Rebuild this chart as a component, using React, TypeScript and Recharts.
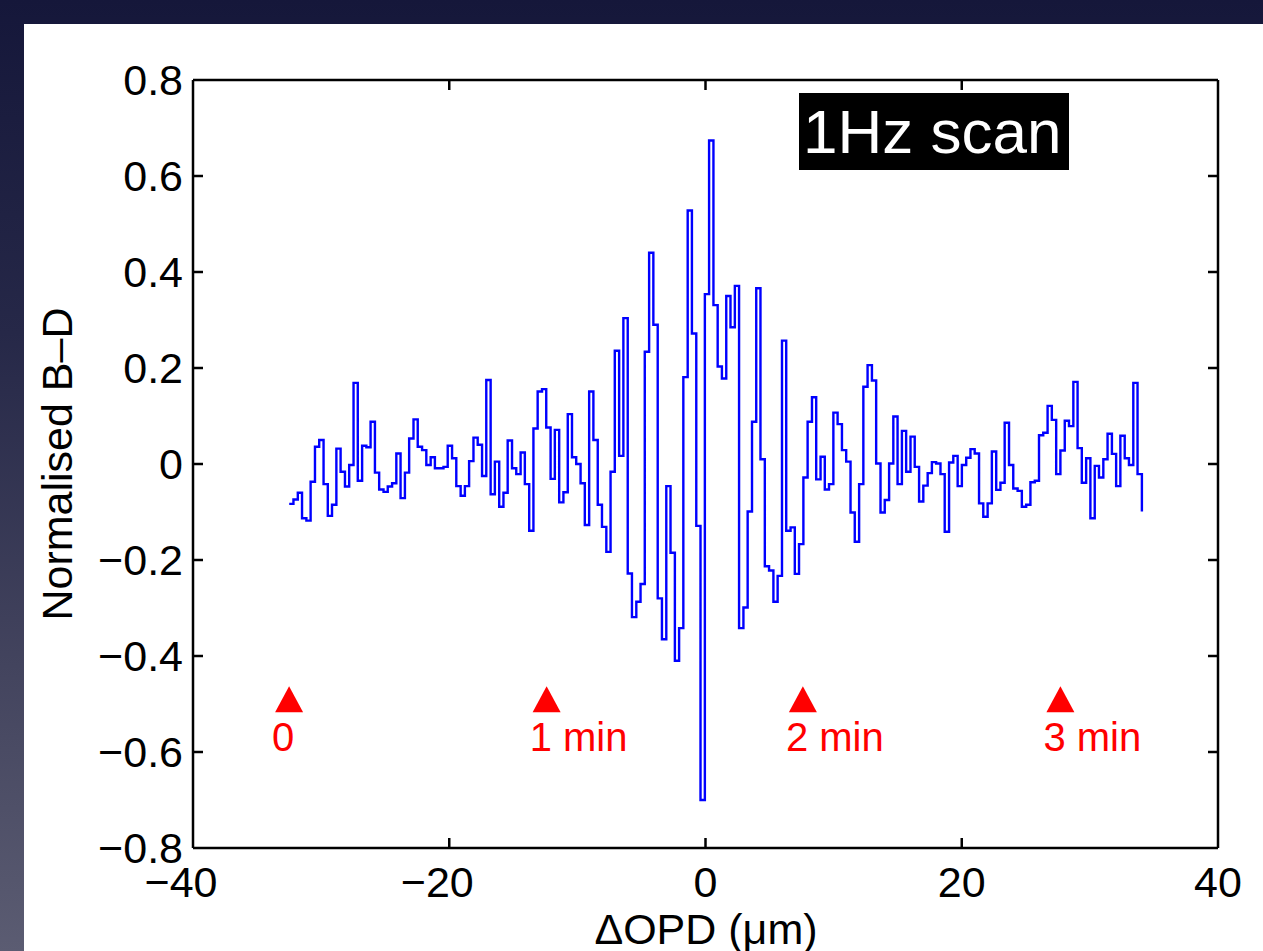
import { ComposedChart, Line, Scatter, XAxis, YAxis, ReferenceLine } from 'recharts';

// sample positions (µm), one per second of the 1 Hz scan
const opd = [
  -32.49, -32.16, -31.82, -31.49, -31.15, -30.82, -30.48, -30.15, -29.81, -29.48,
  -29.15, -28.81, -28.48, -28.14, -27.81, -27.47, -27.14, -26.8, -26.47, -26.14,
  -25.8, -25.47, -25.13, -24.8, -24.46, -24.13, -23.8, -23.46, -23.13, -22.79,
  -22.46, -22.12, -21.79, -21.45, -21.12, -20.79, -20.45, -20.12, -19.78, -19.45,
  -19.11, -18.78, -18.45, -18.11, -17.78, -17.44, -17.11, -16.77, -16.44, -16.1,
  -15.77, -15.44, -15.1, -14.77, -14.43, -14.1, -13.76, -13.43, -13.1, -12.76,
  -12.43, -12.09, -11.76, -11.42, -11.09, -10.75, -10.42, -10.09, -9.75, -9.42,
  -9.08, -8.75, -8.41, -8.08, -7.74, -7.41, -7.08, -6.74, -6.41, -6.07,
  -5.74, -5.4, -5.07, -4.74, -4.4, -4.07, -3.73, -3.4, -3.06, -2.73,
  -2.39, -2.06, -1.73, -1.39, -1.06, -0.72, -0.39, -0.05, 0.28, 0.62,
  0.95, 1.28, 1.62, 1.95, 2.29, 2.62, 2.96, 3.29, 3.63, 3.96,
  4.29, 4.63, 4.96, 5.3, 5.63, 5.97, 6.3, 6.64, 6.97, 7.3,
  7.64, 7.97, 8.31, 8.64, 8.98, 9.31, 9.64, 9.98, 10.31, 10.65,
  10.98, 11.32, 11.65, 11.99, 12.32, 12.65, 12.99, 13.32, 13.66, 13.99,
  14.33, 14.66, 14.99, 15.33, 15.66, 16.0, 16.33, 16.67, 17.0, 17.34,
  17.67, 18.0, 18.34, 18.67, 19.01, 19.34, 19.68, 20.01, 20.35, 20.68,
  21.01, 21.35, 21.68, 22.02, 22.35, 22.69, 23.02, 23.35, 23.69, 24.02,
  24.36, 24.69, 25.03, 25.36, 25.7, 26.03, 26.36, 26.7, 27.03, 27.37,
  27.7, 28.04, 28.37, 28.71, 29.04, 29.37, 29.71, 30.04, 30.38, 30.71,
  31.05, 31.38, 31.72, 32.05, 32.38, 32.72, 33.05, 33.39, 33.72, 34.06,
];

// normalised B-D signal
const signal = [
  -0.083, -0.074, -0.06, -0.113, -0.118, -0.037, 0.036, 0.05, -0.042, -0.108,
  -0.085, 0.032, -0.016, -0.047, -0.002, 0.169, -0.035, 0.038, 0.035, 0.088,
  -0.018, -0.053, -0.058, -0.047, -0.04, 0.022, -0.071, -0.018, 0.053, 0.093,
  0.036, 0.029, -0.002, 0.014, -0.009, -0.009, -0.006, 0.038, 0.012, -0.046,
  -0.066, -0.046, 0.006, 0.055, 0.04, -0.025, 0.175, -0.063, 0.005, -0.089,
  -0.06, 0.049, -0.009, -0.021, 0.024, -0.042, -0.139, 0.074, 0.151, 0.156,
  0.076, -0.031, 0.071, -0.08, -0.059, 0.104, 0.014, 0.0, -0.04, -0.127,
  0.151, 0.05, -0.085, -0.131, -0.183, -0.016, 0.236, 0.017, 0.304, -0.228,
  -0.319, -0.287, -0.25, 0.234, 0.44, 0.29, -0.28, -0.365, -0.046, -0.185,
  -0.41, -0.342, 0.181, 0.528, 0.272, -0.129, -0.7, 0.354, 0.674, 0.331,
  0.203, 0.178, 0.35, 0.285, 0.371, -0.342, -0.299, -0.099, 0.088, 0.366,
  0.01, -0.213, -0.222, -0.287, -0.233, 0.257, -0.139, -0.132, -0.229, -0.167,
  -0.028, 0.088, 0.139, -0.032, 0.015, -0.053, -0.042, 0.107, 0.083, 0.029,
  0.005, -0.101, -0.162, -0.042, 0.161, 0.206, 0.174, 0.001, -0.101, -0.075,
  0.001, 0.099, -0.042, 0.069, -0.016, 0.057, -0.006, -0.078, -0.045, -0.019,
  0.004, 0.001, -0.021, -0.141, 0.003, 0.017, -0.046, -0.002, 0.013, 0.031,
  0.022, -0.082, -0.11, -0.082, 0.026, -0.054, -0.039, 0.086, -0.002, -0.051,
  -0.056, -0.089, -0.085, -0.038, -0.035, 0.06, 0.065, 0.121, 0.092, -0.021,
  0.028, 0.09, 0.079, 0.171, 0.033, -0.039, 0.012, -0.113, -0.004, -0.028,
  0.01, 0.063, 0.021, -0.046, 0.059, 0.012, -0.002, 0.169, -0.021, -0.099,
];

// time markers along the scan
const markerX = [-32.5, -12.4, 7.6, 27.7];
const markerLabels = ['0', '1 min', '2 min', '3 min'];
const markerLevel = -0.49;

const xTicks = [-40, -20, 0, 20, 40];
const yTicks = [-0.8, -0.6, -0.4, -0.2, 0, 0.2, 0.4, 0.6, 0.8];

const FONT = '"Liberation Sans", Arial, Helvetica, sans-serif';
const X_DOMAIN: [number, number] = [-40, 40];
const Y_DOMAIN: [number, number] = [-0.8, 0.8];

// plot box in page pixels (follows from the chart margins below)
const W = 1263;
const H = 951;
const MARGIN = { top: 80, right: 45, bottom: 43, left: 33 };
const Y_AXIS_W = 160;
const X_AXIS_H = 60;
const PLOT_LEFT = MARGIN.left + Y_AXIS_W;
const PLOT_RIGHT = W - MARGIN.right;
const PLOT_TOP = MARGIN.top;
const PLOT_BOTTOM = H - MARGIN.bottom - X_AXIS_H;
const TICK_LEN = 10;
const X_LABEL_GAP = 18;
const Y_LABEL_GAP = 10;

const lineData = opd.map((x, i) => ({ x, y: signal[i] }));
const markers = markerX.map((x, i) => ({ x, y: markerLevel, label: markerLabels[i] }));

function fmt(v: number, digits: number) {
  if (Math.abs(v) < 1e-9) return '0';
  const s = Math.abs(v).toFixed(digits);
  return v < 0 ? '\u2212' + s : s;
}

const XTick = (props: any) => {
  const { x, y, payload } = props;
  const v = payload.value;
  const inner = v > X_DOMAIN[0] && v < X_DOMAIN[1];
  return (
    <g>
      {inner && (
        <>
          <line x1={x} x2={x} y1={PLOT_BOTTOM} y2={PLOT_BOTTOM - TICK_LEN} stroke="#000" strokeWidth={2.5} />
          <line x1={x} x2={x} y1={PLOT_TOP} y2={PLOT_TOP + TICK_LEN} stroke="#000" strokeWidth={2.5} />
        </>
      )}
      <text x={x + (v < 0 ? -12 : 0)} y={y} dy="0.71em" textAnchor="middle"
        fontSize={43} fontFamily={FONT} fill="#000">
        {fmt(v, 0)}
      </text>
    </g>
  );
};

const YTick = (props: any) => {
  const { x, y, payload } = props;
  const v = payload.value;
  const inner = v > Y_DOMAIN[0] && v < Y_DOMAIN[1];
  return (
    <g>
      {inner && (
        <>
          <line x1={PLOT_LEFT} x2={PLOT_LEFT + TICK_LEN} y1={y} y2={y} stroke="#000" strokeWidth={2.5} />
          <line x1={PLOT_RIGHT} x2={PLOT_RIGHT - TICK_LEN} y1={y} y2={y} stroke="#000" strokeWidth={2.5} />
        </>
      )}
      <text x={x} y={y} dy="0.36em" textAnchor="end" fontSize={43} fontFamily={FONT} fill="#000">
        {fmt(v, 1)}
      </text>
    </g>
  );
};

const Marker = (props: any) => {
  const { cx, cy, payload } = props;
  return (
    <g>
      <polygon points={`${cx},${cy - 13} ${cx - 14},${cy + 13} ${cx + 14},${cy + 13}`} fill="#ff0000" />
      <text x={cx - 17} y={cy + 52} fontSize={40} fontFamily={FONT} fill="#ff0000">
        {payload.label}
      </text>
    </g>
  );
};

const axisStyle = { stroke: '#000', strokeWidth: 2.5 };

export default function App() {
  return (
    <div style={{
      position: 'absolute', left: 0, top: 0, width: W, height: H, overflow: 'hidden',
      background: 'linear-gradient(to bottom, #15173a 0%, #262848 35%, #43445e 70%, #5b5c72 100%)',
      fontFamily: FONT,
    }}>
      <div style={{ position: 'absolute', left: 24, top: 24, right: 0, bottom: 0, background: '#fff' }} />
      <div style={{ position: 'absolute', left: 0, top: 0 }}>
        <ComposedChart width={W} height={H} margin={MARGIN}>
          <XAxis dataKey="x" type="number" domain={X_DOMAIN} ticks={xTicks}
            height={X_AXIS_H} tickSize={0} tickMargin={X_LABEL_GAP} axisLine={axisStyle} tickLine={false}
            tick={<XTick />} interval={0} allowDataOverflow
            label={{
              content: () => (
                <text x={706} y={944} textAnchor="middle" fontSize={43} fontFamily={FONT} fill="#000">
                  ΔOPD (μm)
                </text>
              ),
            }} />
          <YAxis dataKey="y" type="number" domain={Y_DOMAIN} ticks={yTicks}
            width={Y_AXIS_W} tickSize={0} tickMargin={Y_LABEL_GAP} axisLine={axisStyle} tickLine={false}
            tick={<YTick />} interval={0} allowDataOverflow
            label={{
              content: () => (
                <text x={72} y={464} textAnchor="middle" fontSize={43} fontFamily={FONT} fill="#000"
                  transform="rotate(-90 72 464)">
                  Normalised B–D
                </text>
              ),
            }} />
          {/* top and right sides of the box */}
          <ReferenceLine y={Y_DOMAIN[1]} stroke="#000" strokeWidth={2.5} ifOverflow="visible" />
          <ReferenceLine x={X_DOMAIN[1]} stroke="#000" strokeWidth={2.5} ifOverflow="visible" />

          <Line data={lineData} dataKey="y" type="stepAfter" stroke="#0000ff" strokeWidth={2.4}
            dot={false} activeDot={false} isAnimationActive={false} />
          <Scatter data={markers} dataKey="y" shape={<Marker />} isAnimationActive={false} />
        </ComposedChart>
      </div>
      <div style={{
        position: 'absolute', left: 799, top: 93, width: 266, height: 77, paddingLeft: 4,
        background: '#000', color: '#fff', fontSize: 62, lineHeight: '77px', fontFamily: FONT,
        whiteSpace: 'nowrap',
      }}>
        1Hz scan
      </div>
    </div>
  );
}
